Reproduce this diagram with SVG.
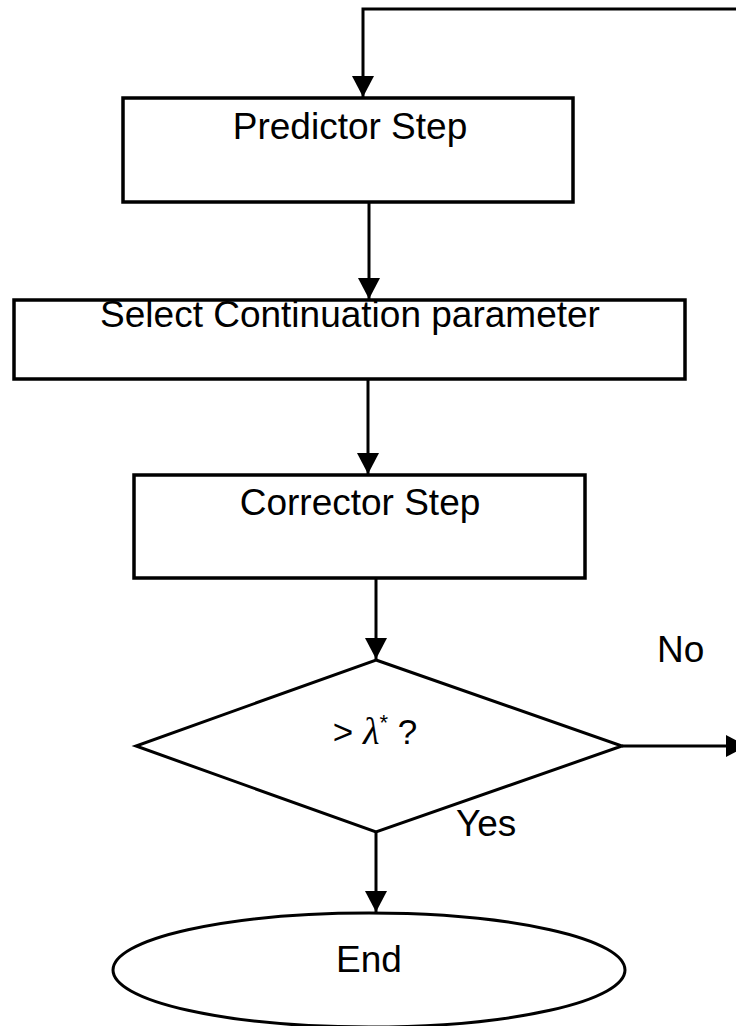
<svg xmlns="http://www.w3.org/2000/svg" width="736" height="1026" viewBox="0 0 736 1026">
<style>
.box{fill:#fff;stroke:#000;stroke-width:3.5}
.shape{fill:#fff;stroke:#000;stroke-width:3}
.lbl{font-family:"Liberation Sans",Arial,sans-serif;font-size:37px;fill:#000}
.conn{fill:none;stroke:#000;stroke-width:3}
</style>
<defs>
<marker id="arr" markerUnits="userSpaceOnUse" markerWidth="22" markerHeight="22" refX="21" refY="11" orient="auto">
<path d="M0,0 L21,11 L0,22 z" fill="#000"/>
</marker>
</defs>
<rect width="736" height="1026" fill="#fff"/>
<g id="connectors">
<path class="conn" d="M736,9 H363 V97" marker-end="url(#arr)"/>
<path class="conn" d="M369,202 V299" marker-end="url(#arr)"/>
<path class="conn" d="M368,380 V474" marker-end="url(#arr)"/>
<path class="conn" d="M376,579 V659" marker-end="url(#arr)"/>
<path class="conn" d="M622,746 H747" marker-end="url(#arr)"/>
<path class="conn" d="M376,832 V912" marker-end="url(#arr)"/>
</g>
<g id="predictor">
<rect class="box" x="123" y="98" width="450" height="104"/>
<text class="lbl" x="350" y="139" text-anchor="middle">Predictor Step</text>
</g>
<g id="select">
<rect class="box" x="14" y="300" width="671" height="79"/>
<text class="lbl" x="350" y="327" text-anchor="middle">Select Continuation parameter</text>
</g>
<g id="corrector">
<rect class="box" x="134" y="475" width="451" height="103"/>
<text class="lbl" x="360" y="515" text-anchor="middle">Corrector Step</text>
</g>
<g id="decision">
<polygon class="shape" points="376,660 622,746 376,832 136,746"/>
<text x="375" y="744" text-anchor="middle" style="font-family:'Liberation Sans',Arial,sans-serif;font-size:35px">&gt; <tspan style="font-family:'Liberation Serif',serif;font-style:italic;font-size:38px">λ</tspan><tspan style="font-size:22px" dy="-14">*</tspan><tspan dy="14"> ?</tspan></text>
</g>
<g id="end">
<ellipse class="shape" cx="369" cy="970" rx="256" ry="57"/>
<text class="lbl" x="369" y="972" text-anchor="middle">End</text>
</g>
<g id="labels">
<text class="lbl" x="657" y="662">No</text>
<text class="lbl" x="456" y="836">Yes</text>
</g>
</svg>
